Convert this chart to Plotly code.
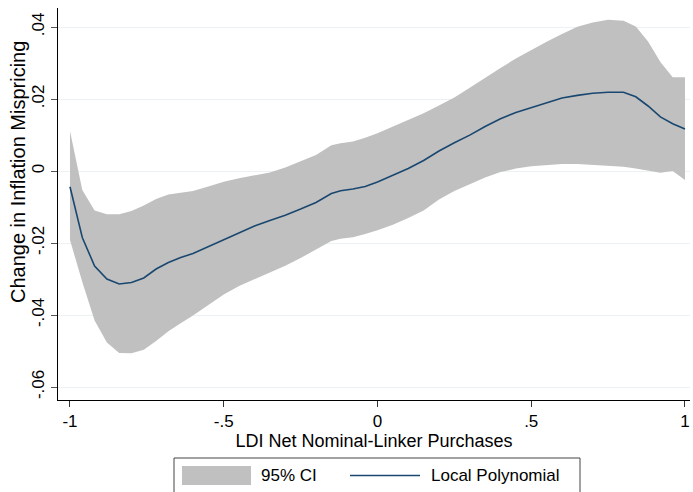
import plotly.graph_objects as go

# ---- data ----
x_grid = [-1.00, -0.96, -0.92, -0.88, -0.84, -0.80, -0.76, -0.72, -0.68, -0.64,
          -0.60, -0.55, -0.50, -0.45, -0.40, -0.35, -0.30, -0.25, -0.20, -0.15,
          -0.12, -0.08, -0.04, 0.00, 0.05, 0.10, 0.15, 0.20, 0.25, 0.30,
          0.35, 0.40, 0.45, 0.50, 0.55, 0.60, 0.65, 0.70, 0.75, 0.80,
          0.84, 0.88, 0.92, 0.96, 1.00]

local_poly = [-0.00436, -0.01847, -0.02639, -0.03000, -0.03139, -0.03097, -0.02972, -0.02722, -0.02542, -0.02403,
              -0.02292, -0.02097, -0.01911, -0.01703, -0.01528, -0.01375, -0.01228, -0.01058, -0.00875, -0.00625,
              -0.00547, -0.00500, -0.00431, -0.00306, -0.00125, 0.00069, 0.00292, 0.00556, 0.00783, 0.00997,
              0.01236, 0.01453, 0.01625, 0.01758, 0.01894, 0.02028, 0.02100, 0.02158, 0.02186, 0.02186,
              0.02061, 0.01806, 0.01503, 0.01314, 0.01167]

ci_upper = [0.01111, -0.00528, -0.01097, -0.01200, -0.01203, -0.01111, -0.00958, -0.00778, -0.00650, -0.00594,
            -0.00556, -0.00431, -0.00297, -0.00203, -0.00122, -0.00039, 0.00100, 0.00261, 0.00444, 0.00714,
            0.00769, 0.00819, 0.00922, 0.01050, 0.01233, 0.01422, 0.01603, 0.01819, 0.02039, 0.02314,
            0.02597, 0.02861, 0.03125, 0.03364, 0.03592, 0.03806, 0.04006, 0.04122, 0.04200, 0.04175,
            0.04014, 0.03597, 0.03028, 0.02603, 0.02603]

ci_lower = [-0.01917, -0.03083, -0.04153, -0.04764, -0.05056, -0.05064, -0.04964, -0.04722, -0.04450, -0.04231,
            -0.04017, -0.03725, -0.03428, -0.03194, -0.03008, -0.02819, -0.02631, -0.02417, -0.02189, -0.01942,
            -0.01881, -0.01839, -0.01753, -0.01644, -0.01492, -0.01308, -0.01097, -0.00794, -0.00558, -0.00369,
            -0.00178, -0.00031, 0.00067, 0.00131, 0.00167, 0.00194, 0.00194, 0.00167, 0.00144, 0.00119,
            0.00072, 0.00017, -0.00047, 0.00000, -0.00250]

x_tickvals = [-1, -0.5, 0, 0.5, 1]
x_ticktext = ["-1", "-.5", "0", ".5", "1"]
y_tickvals = [0.04, 0.02, 0, -0.02, -0.04, -0.06]
y_ticktext = [".04", ".02", "0", "-.02", "-.04", "-.06"]
legend_labels = ["95% CI", "Local Polynomial"]
x_title = "LDI Net Nominal-Linker Purchases"
y_title = "Change in Inflation Mispricing"

# ---- styles / layout ----
FONT = "Liberation Sans, Arial, sans-serif"
BAND = "#C0C0C0"
LINE = "#1A476F"
W, H = 693, 492
ML, MR, MT, MB = 58, 3, 8, 92
PW, PH = W - ML - MR, H - MT - MB


def px_x(p):
    return (p - ML) / PW


def px_y(p):
    return (H - MB - p) / PH


fig = go.Figure()
fig.add_trace(go.Scatter(
    x=x_grid + x_grid[::-1],
    y=ci_upper + ci_lower[::-1],
    fill="toself", fillcolor=BAND, line=dict(width=0, color=BAND),
    mode="lines", name=legend_labels[0], hoverinfo="skip", showlegend=False))
fig.add_trace(go.Scatter(
    x=x_grid, y=local_poly, mode="lines",
    line=dict(color=LINE, width=1.6), name=legend_labels[1], showlegend=False))

# legend drawn in paper coordinates
shapes = [
    dict(type="rect", xref="paper", yref="paper",
         x0=px_x(174), x1=px_x(580), y0=px_y(458), y1=px_y(520),
         line=dict(color="#444444", width=1), fillcolor="white", layer="above"),
    dict(type="rect", xref="paper", yref="paper",
         x0=px_x(182), x1=px_x(251), y0=px_y(466), y1=px_y(485),
         line=dict(width=0), fillcolor=BAND, layer="above"),
    dict(type="line", xref="paper", yref="paper",
         x0=px_x(350), x1=px_x(420), y0=px_y(475.5), y1=px_y(475.5),
         line=dict(color=LINE, width=1.6), layer="above"),
]
annotations = [
    dict(text=legend_labels[0], xref="paper", yref="paper", x=px_x(259), y=px_y(476),
         xanchor="left", yanchor="middle", showarrow=False, font=dict(size=17)),
    dict(text=legend_labels[1], xref="paper", yref="paper", x=px_x(429), y=px_y(476),
         xanchor="left", yanchor="middle", showarrow=False, font=dict(size=17)),
    dict(text=y_title, xref="paper", yref="paper", x=px_x(18), y=px_y(172),
         xanchor="center", yanchor="middle", textangle=-90, showarrow=False,
         font=dict(size=20)),
]

fig.update_layout(
    width=W, height=H,
    margin=dict(l=ML, r=MR, t=MT, b=MB),
    paper_bgcolor="white", plot_bgcolor="white",
    font=dict(family=FONT, size=17, color="black"),
    showlegend=False, shapes=shapes, annotations=annotations,
)
fig.update_xaxes(
    range=[-1.039, 1.0163], tickvals=x_tickvals, ticktext=x_ticktext,
    showline=True, linecolor="black", linewidth=1, mirror=False,
    ticks="outside", ticklen=6, tickcolor="#333333", tickwidth=1,
    showgrid=False, zeroline=False, automargin=False,
    tickfont=dict(size=17),
    title=dict(text=x_title, font=dict(size=18), standoff=2))
fig.update_yaxes(
    range=[-0.06361, 0.04528], tickvals=y_tickvals, ticktext=y_ticktext,
    showline=True, linecolor="black", linewidth=1, mirror=False,
    ticks="outside", ticklen=6, tickcolor="#555555", tickwidth=1,
    showgrid=True, gridcolor="#EAF2F3", gridwidth=1, zeroline=False, automargin=False,
    tickangle=-90, tickfont=dict(size=17))

fig.write_html("out.html")
